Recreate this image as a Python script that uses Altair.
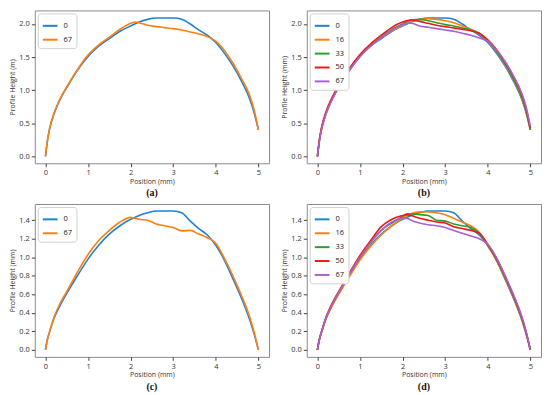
import altair as alt
import pandas as pd

# common x grid (Position, mm)
X = [0, 0.05, 0.1, 0.2, 0.3, 0.4, 0.5, 0.75, 1.0, 1.25, 1.5, 1.75, 2.0, 2.1, 2.2,
     2.4, 2.6, 2.8, 3.0, 3.2, 3.4, 3.6, 3.8, 4.0, 4.2, 4.4, 4.6, 4.8, 4.9, 5.0]

# panel (a) / (b) : profile heights
A0 = [0, 0.25, 0.42, 0.64, 0.80, 0.93, 1.04, 1.30, 1.51, 1.665, 1.78, 1.89, 1.97, 2.00, 2.03,
      2.07, 2.09, 2.09, 2.09, 2.07, 2.00, 1.91, 1.83, 1.72, 1.56, 1.37, 1.14, 0.86, 0.66, 0.40]
A67 = [0, 0.25, 0.43, 0.65, 0.81, 0.94, 1.05, 1.31, 1.53, 1.685, 1.80, 1.92, 2.01, 2.03, 2.02,
       1.98, 1.96, 1.945, 1.93, 1.91, 1.88, 1.85, 1.81, 1.74, 1.60, 1.41, 1.18, 0.91, 0.70, 0.40]
B16 = [0, 0.25, 0.42, 0.64, 0.80, 0.93, 1.04, 1.30, 1.51, 1.67, 1.79, 1.90, 1.98, 2.02, 2.04,
       2.07, 2.08, 2.07, 2.05, 2.02, 1.97, 1.92, 1.85, 1.74, 1.58, 1.39, 1.16, 0.88, 0.68, 0.40]
B33 = [0, 0.26, 0.43, 0.65, 0.81, 0.94, 1.05, 1.31, 1.52, 1.68, 1.80, 1.92, 2.00, 2.04, 2.06,
       2.07, 2.05, 2.02, 1.99, 1.97, 1.94, 1.91, 1.86, 1.75, 1.59, 1.40, 1.17, 0.89, 0.69, 0.40]
B50 = [0, 0.27, 0.45, 0.67, 0.83, 0.96, 1.07, 1.33, 1.54, 1.70, 1.83, 1.95, 2.03, 2.05, 2.06,
       2.04, 2.01, 1.98, 1.96, 1.94, 1.92, 1.90, 1.86, 1.76, 1.62, 1.43, 1.21, 0.93, 0.72, 0.42]
B67 = [0, 0.25, 0.42, 0.64, 0.80, 0.93, 1.04, 1.30, 1.51, 1.67, 1.79, 1.91, 1.99, 2.01, 2.01,
       1.97, 1.95, 1.93, 1.91, 1.89, 1.86, 1.83, 1.79, 1.74, 1.61, 1.44, 1.22, 0.95, 0.75, 0.45]

# panel (c) / (d)
C0 = [0, 0.12, 0.20, 0.34, 0.44, 0.53, 0.61, 0.80, 0.98, 1.13, 1.25, 1.34, 1.41, 1.43, 1.45,
      1.48, 1.50, 1.50, 1.50, 1.48, 1.39, 1.31, 1.24, 1.13, 0.97, 0.77, 0.56, 0.32, 0.17, 0.0]
C67 = [0, 0.12, 0.20, 0.35, 0.46, 0.55, 0.63, 0.84, 1.03, 1.18, 1.29, 1.38, 1.43, 1.42, 1.41,
       1.40, 1.36, 1.34, 1.32, 1.285, 1.29, 1.25, 1.21, 1.15, 0.99, 0.80, 0.59, 0.35, 0.19, 0.0]
D16 = [0, 0.12, 0.19, 0.33, 0.43, 0.52, 0.60, 0.79, 0.97, 1.12, 1.24, 1.34, 1.42, 1.45, 1.47,
       1.49, 1.49, 1.48, 1.46, 1.42, 1.38, 1.34, 1.27, 1.12, 0.97, 0.78, 0.57, 0.33, 0.18, 0.0]
D33 = [0, 0.12, 0.20, 0.34, 0.45, 0.54, 0.62, 0.82, 1.00, 1.16, 1.29, 1.37, 1.44, 1.47, 1.47,
       1.46, 1.45, 1.40, 1.39, 1.36, 1.34, 1.32, 1.26, 1.13, 0.98, 0.79, 0.58, 0.34, 0.19, 0.0]
D50 = [0, 0.12, 0.20, 0.35, 0.46, 0.55, 0.63, 0.83, 1.02, 1.18, 1.33, 1.41, 1.45, 1.46, 1.45,
       1.42, 1.40, 1.38, 1.37, 1.33, 1.31, 1.29, 1.26, 1.14, 0.99, 0.80, 0.59, 0.35, 0.19, 0.0]
D67 = [0, 0.12, 0.20, 0.34, 0.45, 0.54, 0.62, 0.82, 1.00, 1.16, 1.29, 1.38, 1.42, 1.42, 1.40,
       1.37, 1.35, 1.34, 1.32, 1.29, 1.26, 1.23, 1.20, 1.14, 1.00, 0.81, 0.60, 0.36, 0.20, 0.0]

LABELS2 = ["0", "67"]
LABELS5 = ["0", "16", "33", "50", "67"]
COLORS2 = ["#1f80d8", "#ff7f0e"]
COLORS5 = ["#1f80d8", "#ff7f0e", "#2ca02c", "#f01818", "#a95fd6"]

W, H = 236, 154


def panel(series, labels, colors, ydom, yticks, ytitle, caption):
    rows = []
    for lab, ys in zip(labels, series):
        for i, (xv, yv) in enumerate(zip(X, ys)):
            rows.append({"x": xv, "y": yv, "s": lab, "i": i})
    df = pd.DataFrame(rows)
    return alt.Chart(df, title=alt.TitleParams(
        caption, orient="bottom", font="Liberation Serif", fontWeight="bold",
        fontSize=10, offset=4, anchor="middle", color="#111")).mark_line(
        strokeWidth=1.6, clip=True, interpolate="monotone").encode(
        x=alt.X("x:Q", scale=alt.Scale(domain=[-0.25, 5.25], nice=False, zero=False),
                axis=alt.Axis(values=[0, 1, 2, 3, 4, 5], format="d", title="Position (mm)",
                              titlePadding=1)),
        y=alt.Y("y:Q", scale=alt.Scale(domain=ydom, nice=False, zero=False),
                axis=alt.Axis(values=yticks, format=".1f", title=ytitle)),
        color=alt.Color("s:N", scale=alt.Scale(domain=labels, range=colors),
                        legend=alt.Legend(title=None, orient="top-left")),
        order="i:Q",
    ).properties(width=W, height=H)


YD1 = [-0.105, 2.205]
YT1 = [0.0, 0.5, 1.0, 1.5, 2.0]
YD2 = [-0.075, 1.575]
YT2 = [0.0, 0.2, 0.4, 0.6, 0.8, 1.0, 1.2, 1.4]

pa = panel([A0, A67], LABELS2, COLORS2, YD1, YT1, "Profile Height (m)", "(a)")
pb = panel([A0, B16, B33, B50, B67], LABELS5, COLORS5, YD1, YT1, "Profile Height (mm)", "(b)")
pc = panel([C0, C67], LABELS2, COLORS2, YD2, YT2, "Profile Height (mm)", "(c)")
pd_ = panel([C0, D16, D33, D50, D67], LABELS5, COLORS5, YD2, YT2, "Profile Height (mm)", "(d)")

row1 = alt.hconcat(pa, pb, spacing=10).resolve_scale(color="independent")
row2 = alt.hconcat(pc, pd_, spacing=10).resolve_scale(color="independent")

chart = alt.vconcat(row1, row2, spacing=4).resolve_scale(color="independent").properties(
    padding={"left": 0, "top": 0, "right": 0, "bottom": 0}
).configure_view(stroke="#8a8a8a", strokeWidth=1).configure_axis(
    grid=False, domain=False, tickColor="#444", tickSize=3.5, labelFont="Open Sans",
    labelFontSize=7.5, titleFont="Open Sans", titleFontSize=7, titleFontWeight="normal",
    labelColor="#333", titleColor="#333", labelPadding=2, titlePadding=3
).configure_legend(
    strokeColor="#d0d0d0", fillColor="white", padding=4, cornerRadius=3,
    symbolType="stroke", symbolStrokeWidth=2, symbolSize=220, labelFont="Open Sans",
    labelFontSize=7.5, labelColor="#222", rowPadding=1, offset=3, labelOffset=5
)

chart.save("out.html", embed_options={"renderer": "svg", "actions": False})
